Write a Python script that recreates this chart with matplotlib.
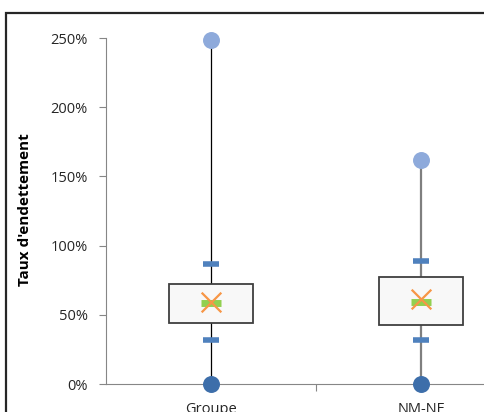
import matplotlib.pyplot as plt
import matplotlib.patches as patches
from matplotlib.ticker import FuncFormatter
import numpy as np

# data (fractions)
categories = ["Groupe", "NM-NF"]
minimum = [0.0, 0.0]
lower_whisker = [0.318, 0.318]
q1 = [0.441, 0.424]
median = [0.585, 0.592]
mean = [0.59, 0.612]
q3 = [0.725, 0.773]
upper_whisker = [0.869, 0.891]
maximum = [2.488, 1.618]

whisker_colors = ["#000000", "#7f7f7f"]
whisker_widths = [0.9, 1.6]

plt.rcParams['font.family'] = ['Open Sans', 'DejaVu Sans']

fig = plt.figure(figsize=(4.84, 4.12), dpi=100)
W, H = 484, 412
ax = fig.add_axes([106 / W, (H - 384) / H, 420 / W, (384 - 38) / H])

x = np.arange(len(categories))

# whisker lines from min to max
for i in range(len(categories)):
    ax.vlines(x[i], minimum[i], maximum[i], color=whisker_colors[i],
              lw=whisker_widths[i], zorder=1)

# boxes
ax.bar(x, np.array(q3) - np.array(q1), bottom=q1, width=0.4,
       color="#f8f8f8", edgecolor="#3f3f3f", lw=1.3, zorder=2)

# whisker dashes
ax.hlines(upper_whisker, x - 0.036, x + 0.036, color="#4f81bd", lw=4, zorder=3)
ax.hlines(lower_whisker, x - 0.036, x + 0.036, color="#4f81bd", lw=4, zorder=3)

# median
ax.hlines(median, x - 0.048, x + 0.048, color="#92d050", lw=5, zorder=3)

# mean
ax.scatter(x, mean, marker="x", s=200, color="#f79646", lw=1.6, zorder=4)

# min / max
ax.scatter(x, maximum, s=125, color="#8eaadb", zorder=4, clip_on=False)
ax.scatter(x, minimum, s=125, color="#3d6eaa", zorder=4, clip_on=False)

ax.set_xlim(-0.5, 1.5)
ax.set_ylim(0, 2.5)
ax.set_yticks(np.arange(0, 2.51, 0.5))
ax.yaxis.set_major_formatter(FuncFormatter(lambda v, p: f"{v * 100:.0f}%"))

ax.set_xticks([0.5, 1.5])
ax.set_xticklabels([])
ax.set_xticks(x, minor=True)
ax.set_xticklabels(categories, minor=True)
ax.tick_params(axis="x", which="minor", length=0, pad=13, labelsize=10.5, colors="#262626")
ax.tick_params(axis="x", which="major", length=5, color="#868686")
ax.tick_params(axis="y", length=5, color="#868686", labelsize=10.5, labelcolor="#262626", pad=8)

for s in ["top", "right"]:
    ax.spines[s].set_visible(False)
for s in ["left", "bottom"]:
    ax.spines[s].set_color("#868686")

ax.set_ylabel("Taux d'endettement", fontsize=11, fontweight="bold")
ax.yaxis.set_label_coords((32 - 106) / 420, (384 - 210) / 346)

# outer chart frame
fig.patches.append(patches.Rectangle((6 / W, -0.1), 1.2, (H - 13) / H + 0.1,
                                     transform=fig.transFigure, fill=False,
                                     edgecolor="#262626", lw=1.6))

fig.savefig("out.png", dpi=100)
